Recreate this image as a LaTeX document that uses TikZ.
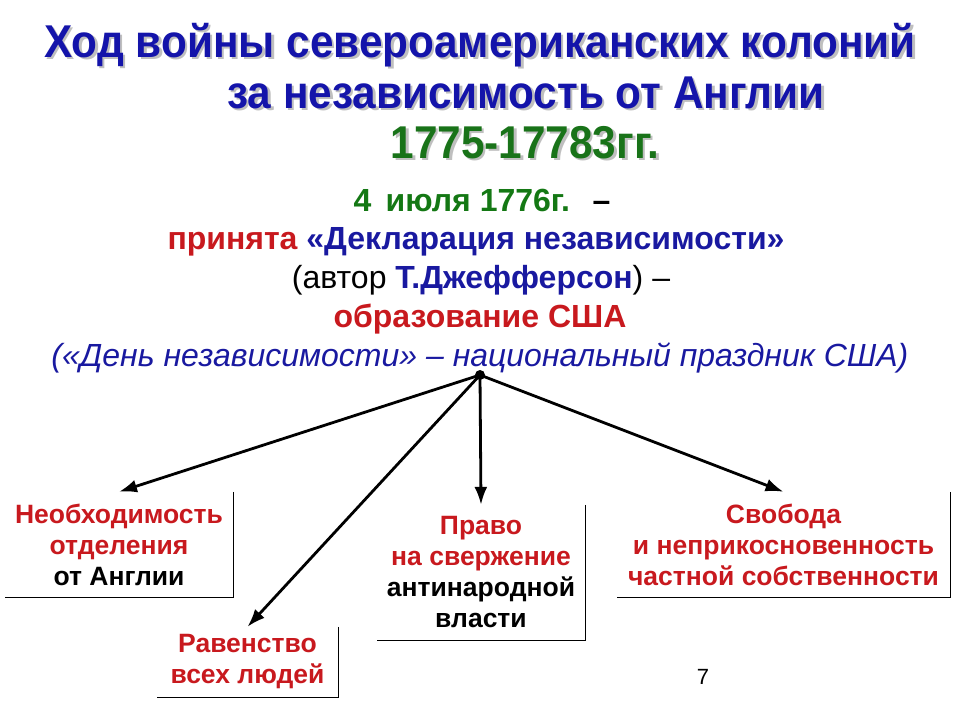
\documentclass[tikz,border=0pt]{standalone}
\usepackage{fontspec}
\setmainfont{Liberation Sans}
\newfontfamily\narrowfont[FakeStretch=0.92]{Liberation Sans}
\usepackage{xcolor}
\usetikzlibrary{arrows.meta}

\definecolor{ttlblue}{RGB}{20,20,170}
\definecolor{ttlgreen}{RGB}{25,115,25}
\definecolor{txtred}{RGB}{200,25,30}
\definecolor{txtblue}{RGB}{25,25,160}
\definecolor{txtgreen}{RGB}{20,120,20}

\begin{document}
\begin{tikzpicture}[x=1pt,y=-1pt,
    ttl/.style={anchor=base,font=\narrowfont\bfseries\fontsize{46}{46}\selectfont},
    body/.style={anchor=base,font=\fontsize{32}{32}\selectfont},
    box/.style={align=center,font=\bfseries\fontsize{26.5}{31}\selectfont,inner sep=0pt},
    arr/.style={-{Latex[length=18pt,width=13pt]},line width=2.8pt}]

    \useasboundingbox (0,0) rectangle (960,720);

    % title with shadow
    \node[ttl,text=gray!50] at (482.5,59.5) {Ход войны североамериканских колоний};
    \node[ttl,text=ttlblue] (t1) at (480,57) {Ход войны североамериканских колоний};
    \node[ttl,text=gray!50] at (528.5,110.5) {за независимость от Англии};
    \node[ttl,text=ttlblue] (t2) at (526,108) {за независимость от Англии};
    \node[ttl,text=gray!50] at (527.5,160.5) {1775-17783гг.};
    \node[ttl,text=ttlgreen] (t3) at (525,158) {1775-17783гг.};

    \node[body] (a) at (482,211) {\textcolor{txtgreen}{\bfseries 4\, июля 1776г.}\,\, \textbf{–}};
    \node[body] (b) at (476,249) {\textcolor{txtred}{\bfseries принята} \textcolor{txtblue}{\bfseries «Декларация независимости»}};
    \node[body] (c) at (481,288) {(автор \textcolor{txtblue}{\bfseries Т.Джефферсон}) –};
    \node[body,text=txtred] (d) at (480,327) {\bfseries образование США};
    \node[body,text=txtblue] (e) at (480,366) {\itshape («День независимости» – национальный праздник США)};

    \coordinate (hub) at (480,375);
    \fill (hub) circle (5pt);

    \node[box,minimum width=228pt,minimum height=105pt] (need) at (119,544.5)
        {\textcolor{txtred}{Необходимость}\\\textcolor{txtred}{отделения}\\от Англии};
    \node[box,minimum width=181pt,minimum height=70pt] (equal) at (247.5,662)
        {\textcolor{txtred}{Равенство}\\\textcolor{txtred}{всех людей}};
    \node[box,minimum width=208pt,minimum height=135pt] (right) at (481,572.5)
        {\textcolor{txtred}{Право}\\\textcolor{txtred}{на свержение}\\антинародной\\власти};
    \node[box,minimum width=333pt,minimum height=105pt,text=txtred] (free) at (783.5,544.5)
        {Свобода\\и неприкосновенность\\частной собственности};

    \foreach \b in {need,equal,right,free}
        \draw[line width=1pt] (\b.north east) -- (\b.south east) -- (\b.south west);

    \draw[arr] (hub) -- (need.north);
    \draw[arr] (hub) -- (equal.north);
    \draw[arr] (hub) -- (right.north);
    \draw[arr] (hub) -- (free.north);

    \node[font=\fontsize{22}{22}\selectfont] (num) at (703,677) {7};

\end{tikzpicture}
\end{document}
